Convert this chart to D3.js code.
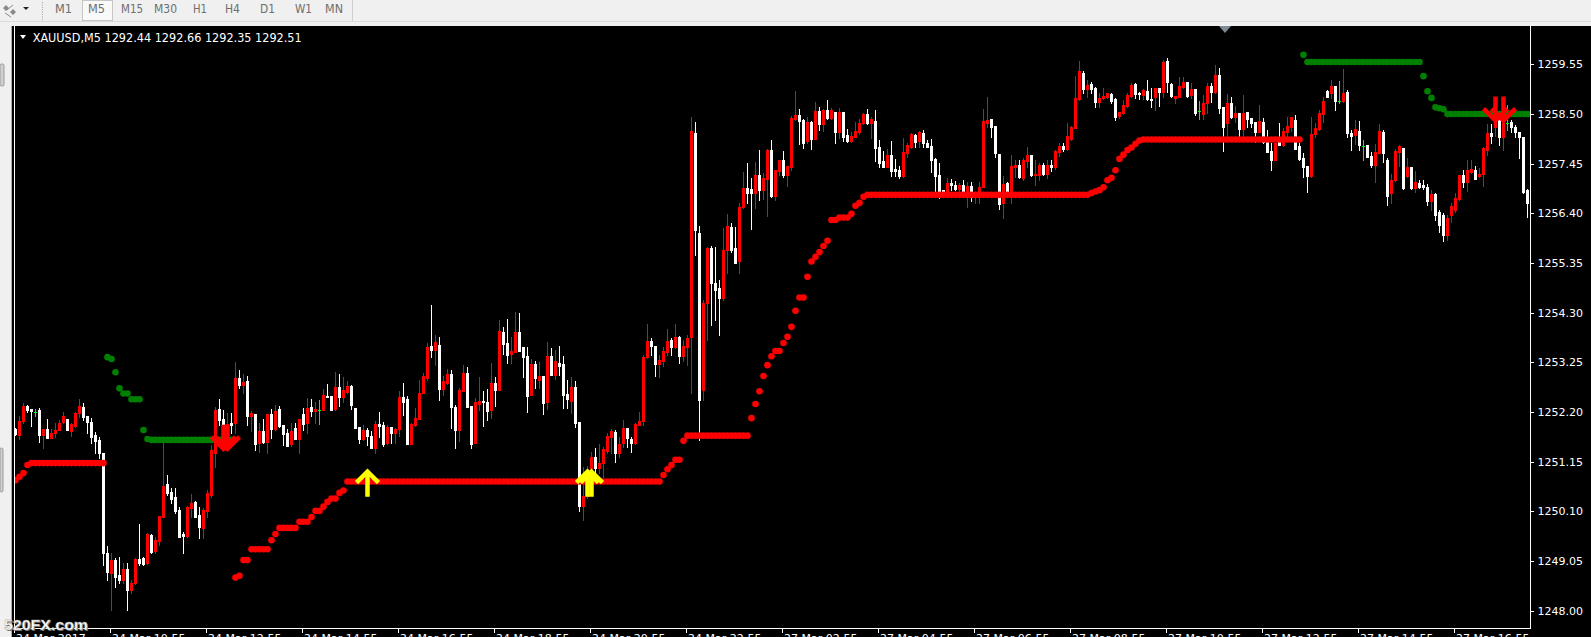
<!DOCTYPE html>
<html><head><meta charset="utf-8">
<script src="https://cdn.jsdelivr.net/npm/d3@7"></script>
<style>html,body{margin:0;padding:0;background:#000;overflow:hidden}svg{display:block}</style>
</head><body><svg id="c" width="1591" height="637"></svg>
<script>
const symbolTitle = "XAUUSD,M5  1292.44 1292.66 1292.35 1292.51";
const periods = ["M1","M5","M15","M30","H1","H4","D1","W1","MN"];
const priceTicks = [1248.00,1249.05,1250.10,1251.15,1252.20,1253.25,1254.30,1255.35,1256.40,1257.45,1258.50,1259.55];
const timeTickBars = [0,24,48,72,96,120,144,168,192,216,240,264,288,312,336,360];
const timeLabels = ["24 Mar 2017","24 Mar 10:55","24 Mar 12:55","24 Mar 14:55","24 Mar 16:55","24 Mar 18:55","24 Mar 20:55","24 Mar 22:55","27 Mar 02:55","27 Mar 04:55","27 Mar 06:55","27 Mar 08:55","27 Mar 10:55","27 Mar 12:55","27 Mar 14:55","27 Mar 16:55"];

const open = [1251.84,1251.71,1252.01,1252.33,1252.26,1252.20,1252.24,1251.71,1251.84,1251.65,
1251.76,1251.82,1251.99,1252.05,1251.80,1251.90,1252.18,1252.31,1252.12,1251.99,
1251.71,1251.61,1251.33,1249.22,1248.80,1249.07,1248.76,1248.65,1248.88,1248.44,
1248.59,1249.09,1249.11,1249.01,1249.60,1249.26,1249.47,1249.98,1250.68,1250.51,
1250.40,1250.13,1249.62,1249.58,1250.17,1250.30,1250.02,1249.75,1250.11,1250.45,
1251.33,1252.26,1252.05,1251.88,1251.97,1251.97,1252.92,1252.77,1252.86,1252.12,
1252.16,1251.55,1251.80,1251.57,1252.16,1251.84,1252.26,1251.92,1251.76,1251.52,
1251.86,1251.63,1252.16,1251.97,1252.31,1252.22,1252.24,1252.24,1252.54,1252.54,
1252.26,1252.73,1252.52,1252.62,1252.75,1252.28,1251.88,1251.63,1251.82,1251.69,
1251.44,1251.95,1251.92,1251.55,1251.88,1251.76,1251.84,1252.52,1252.47,1251.52,
1251.92,1252.05,1252.60,1252.92,1253.60,1253.51,1253.62,1252.69,1252.81,1253.00,
1252.31,1251.82,1252.64,1253.02,1252.33,1251.55,1252.37,1252.43,1252.41,1252.24,
1252.81,1252.66,1253.89,1253.66,1253.43,1253.47,1253.89,1253.57,1253.38,1252.56,
1253.21,1252.88,1252.96,1252.41,1253.38,1252.98,1253.24,1253.21,1252.58,1252.43,
1252.73,1251.99,1250.21,1250.42,1251.02,1251.25,1251.02,1251.12,1251.38,1251.67,
1251.78,1251.33,1251.55,1251.86,1251.63,1251.55,1251.92,1252.01,1253.36,1253.70,
1253.59,1253.21,1253.28,1253.47,1253.72,1253.57,1253.79,1253.38,1253.57,1253.79,
1258.10,1255.98,1252.66,1254.50,1255.67,1254.93,1254.82,1254.61,1255.62,1256.11,
1255.67,1255.39,1256.53,1256.93,1256.91,1256.83,1257.21,1256.89,1257.12,1257.74,
1256.77,1257.29,1257.53,1257.21,1257.38,1258.39,1258.48,1258.37,1257.93,1258.33,
1257.97,1258.56,1258.29,1258.58,1258.41,1258.54,1258.12,1258.54,1258.05,1257.93,
1258.01,1258.12,1258.31,1258.50,1258.31,1258.35,1257.80,1257.50,1257.38,1257.63,
1257.34,1257.31,1257.19,1257.67,1257.80,1258.05,1257.93,1258.10,1257.88,1257.82,
1257.55,1257.21,1256.89,1256.87,1257.04,1257.00,1256.91,1257.00,1256.74,1256.98,
1256.74,1256.74,1256.96,1258.31,1258.39,1258.24,1257.65,1256.62,1257.04,1256.83,
1257.38,1257.42,1257.15,1257.50,1257.63,1257.21,1257.21,1257.42,1257.23,1257.42,
1257.38,1257.70,1257.82,1257.76,1257.97,1258.20,1258.82,1259.36,1259.03,1259.13,
1259.05,1258.75,1258.84,1258.86,1258.92,1258.82,1258.46,1258.52,1258.67,1258.88,
1259.13,1258.94,1258.90,1258.98,1258.82,1258.86,1259.05,1258.96,1259.62,1259.13,
1258.84,1258.86,1259.07,1259.17,1258.90,1259.03,1258.56,1258.50,1258.73,1259.09,
1258.96,1259.32,1258.65,1258.31,1258.73,1258.44,1258.52,1258.18,1258.54,1258.41,
1258.33,1258.12,1258.33,1257.91,1257.72,1257.53,1257.95,1257.84,1258.12,1258.22,
1258.37,1257.82,1257.57,1257.40,1257.19,1258.08,1258.18,1258.50,1258.98,1258.94,
1259.09,1258.77,1258.77,1258.96,1258.10,1258.05,1258.14,1257.82,1257.84,1257.61,
1257.42,1257.67,1258.12,1257.53,1256.83,1257.10,1257.70,1257.78,1257.19,1257.38,
1256.93,1257.04,1257.00,1256.96,1256.66,1256.81,1256.43,1256.36,1255.94,1256.36,
1256.47,1256.70,1257.21,1257.06,1257.27,1257.31,1257.19,1257.23,1257.74,1258.10,
1258.22,1258.41,1258.01,1258.31,1258.33,1258.22,1258.12,1258.01,1256.89];

const high = [1251.86,1252.12,1252.39,1252.35,1252.26,1252.26,1252.28,1251.84,1252.05,1251.84,
1251.97,1252.03,1252.20,1252.05,1251.97,1252.20,1252.47,1252.39,1252.12,1252.07,
1251.78,1251.67,1251.33,1249.37,1249.22,1249.11,1249.13,1249.01,1249.01,1248.65,
1249.11,1249.83,1249.13,1249.64,1249.62,1249.56,1250.00,1251.55,1250.87,1250.59,
1250.59,1250.19,1249.66,1250.21,1250.47,1250.32,1250.19,1250.17,1250.55,1251.50,
1252.31,1252.47,1252.24,1252.18,1252.18,1253.26,1253.09,1253.00,1252.96,1252.22,
1252.16,1251.97,1252.05,1252.16,1252.26,1252.35,1252.33,1251.92,1251.84,1251.97,
1251.97,1252.05,1252.28,1252.50,1252.47,1252.41,1252.45,1252.69,1252.79,1252.54,
1253.04,1253.00,1252.94,1252.86,1252.77,1252.28,1251.88,1251.92,1251.86,1251.80,
1252.01,1252.20,1251.99,1251.92,1251.88,1251.86,1252.64,1252.81,1252.54,1251.97,
1252.28,1252.88,1253.02,1253.66,1254.46,1253.83,1253.79,1252.96,1253.11,1253.09,
1252.35,1252.71,1253.19,1253.15,1252.33,1252.50,1252.94,1252.64,1252.69,1253.24,
1252.94,1254.14,1253.99,1254.17,1253.79,1254.31,1254.29,1253.57,1253.57,1253.32,
1253.28,1253.26,1252.96,1253.68,1253.55,1253.51,1253.59,1253.38,1252.88,1252.94,
1252.86,1251.99,1251.04,1251.06,1251.35,1251.44,1251.52,1251.46,1251.76,1251.84,
1251.82,1251.67,1252.03,1251.86,1251.67,1251.97,1252.20,1253.40,1254.06,1253.76,
1253.59,1253.40,1253.57,1253.95,1253.76,1254.06,1253.81,1253.72,1253.83,1258.44,
1258.33,1256.13,1254.57,1255.69,1255.71,1255.69,1254.99,1256.09,1256.39,1256.19,
1256.11,1256.62,1257.27,1257.46,1257.15,1257.48,1257.74,1257.25,1257.76,1257.95,
1257.31,1257.53,1257.72,1257.40,1258.46,1258.98,1258.60,1258.39,1258.44,1258.35,
1258.75,1258.65,1258.60,1258.79,1258.63,1258.54,1258.63,1258.54,1258.18,1258.12,
1258.33,1258.39,1258.52,1258.60,1258.44,1258.58,1257.95,1257.72,1257.76,1257.93,
1257.55,1257.40,1257.99,1257.88,1258.10,1258.08,1258.14,1258.16,1257.95,1257.97,
1257.57,1257.46,1256.89,1257.15,1257.12,1257.08,1257.04,1257.10,1257.06,1257.06,
1256.85,1257.06,1258.60,1258.86,1258.39,1258.24,1257.65,1257.19,1257.06,1257.63,
1257.53,1257.53,1257.57,1257.80,1257.63,1257.53,1257.46,1257.46,1257.53,1257.53,
1257.74,1257.88,1257.88,1258.31,1258.24,1259.30,1259.62,1259.41,1259.22,1259.17,
1259.07,1258.94,1259.05,1258.94,1258.94,1258.84,1258.54,1258.79,1258.94,1259.15,
1259.15,1258.96,1259.03,1259.22,1259.05,1259.05,1259.05,1259.64,1259.68,1259.15,
1258.88,1259.28,1259.28,1259.17,1259.15,1259.03,1258.77,1258.90,1259.15,1259.15,
1259.53,1259.47,1258.65,1258.92,1258.86,1258.67,1258.52,1258.90,1258.54,1258.41,
1258.33,1258.69,1258.41,1258.16,1257.88,1257.88,1258.31,1258.20,1258.44,1258.44,
1258.48,1257.88,1257.67,1257.40,1258.44,1258.31,1258.58,1258.86,1259.00,1259.22,
1259.09,1259.20,1259.45,1259.00,1258.16,1258.37,1258.35,1257.95,1257.84,1257.70,
1257.86,1258.29,1258.16,1257.57,1257.23,1257.76,1257.84,1257.78,1257.57,1257.38,
1257.29,1257.10,1257.10,1257.02,1256.89,1256.83,1256.47,1256.41,1256.36,1256.62,
1256.83,1257.21,1257.31,1257.53,1257.53,1257.40,1257.36,1257.80,1258.29,1258.29,
1258.81,1258.41,1258.73,1258.69,1258.37,1258.27,1258.12,1258.01,1256.91];

const low = [1251.71,1251.63,1251.97,1252.20,1251.90,1252.12,1251.57,1251.44,1251.65,1251.65,
1251.67,1251.82,1251.97,1251.82,1251.69,1251.88,1252.10,1252.03,1251.76,1251.54,
1251.33,1251.23,1248.97,1248.65,1248.01,1248.50,1248.59,1248.59,1248.01,1248.37,
1248.57,1248.97,1248.97,1248.99,1249.22,1249.22,1249.39,1249.98,1250.45,1250.28,
1250.07,1249.56,1249.22,1249.56,1249.98,1249.98,1249.54,1249.54,1249.98,1250.40,
1251.04,1251.92,1251.40,1251.50,1251.76,1251.76,1252.71,1252.60,1251.92,1251.80,
1251.40,1251.35,1251.55,1251.33,1251.65,1251.82,1251.88,1251.50,1251.48,1251.48,
1251.63,1251.33,1251.82,1251.76,1252.12,1251.97,1251.95,1252.24,1252.52,1252.24,
1252.24,1252.33,1252.41,1252.60,1252.26,1251.86,1251.54,1251.61,1251.50,1251.44,
1251.33,1251.67,1251.48,1251.52,1251.55,1251.55,1251.69,1252.14,1251.52,1251.52,
1251.90,1252.05,1252.60,1252.88,1253.36,1253.19,1252.45,1252.56,1252.79,1251.86,
1251.44,1251.59,1252.64,1252.31,1251.44,1251.55,1252.24,1251.90,1252.03,1252.07,
1252.33,1252.66,1253.43,1253.24,1253.24,1253.47,1253.49,1252.94,1252.20,1252.56,
1252.71,1252.71,1252.16,1252.26,1252.98,1252.90,1252.98,1252.28,1252.28,1252.18,
1251.88,1250.11,1249.92,1250.38,1250.93,1250.93,1250.91,1250.83,1251.33,1251.33,
1251.14,1251.25,1251.46,1251.46,1251.35,1251.52,1251.92,1251.92,1253.34,1253.40,
1252.96,1252.94,1253.17,1253.40,1253.40,1253.55,1253.24,1253.28,1253.19,1252.60,
1255.52,1251.61,1252.45,1253.72,1254.04,1254.14,1253.83,1254.57,1255.14,1255.58,
1255.35,1255.14,1256.51,1256.62,1256.07,1256.51,1256.68,1256.70,1256.34,1256.74,
1256.68,1257.21,1257.17,1256.98,1257.31,1258.37,1257.86,1257.78,1257.88,1257.76,
1257.97,1258.16,1258.14,1258.39,1258.39,1257.88,1257.99,1257.93,1257.91,1257.91,
1258.01,1258.08,1258.29,1258.29,1257.99,1257.50,1257.38,1257.38,1257.38,1257.19,
1257.19,1257.15,1257.17,1257.59,1257.78,1257.80,1257.80,1257.80,1257.80,1257.27,
1256.85,1256.72,1256.74,1256.85,1256.89,1256.89,1256.85,1256.79,1256.53,1256.66,
1256.62,1256.62,1256.96,1258.22,1258.01,1257.59,1256.49,1256.30,1256.83,1256.62,
1257.17,1257.15,1257.10,1257.38,1257.19,1257.00,1257.10,1257.21,1257.15,1257.29,
1257.34,1257.61,1257.72,1257.74,1257.95,1258.20,1258.79,1258.94,1258.86,1258.94,
1258.65,1258.65,1258.82,1258.84,1258.73,1258.37,1258.41,1258.50,1258.65,1258.86,
1258.84,1258.82,1258.82,1258.79,1258.65,1258.58,1258.67,1258.86,1258.96,1258.86,
1258.73,1258.86,1259.05,1258.86,1258.84,1258.48,1258.39,1258.39,1258.52,1258.75,
1258.94,1258.52,1257.72,1258.03,1258.41,1258.33,1258.01,1258.03,1258.22,1258.22,
1257.91,1258.12,1257.88,1257.70,1257.31,1257.53,1257.84,1257.82,1258.01,1258.14,
1257.76,1257.53,1257.17,1256.85,1257.17,1258.01,1258.16,1258.33,1258.86,1258.84,
1258.58,1258.73,1258.75,1258.01,1257.74,1257.86,1257.74,1257.53,1257.59,1257.38,
1257.06,1257.67,1257.48,1256.57,1256.62,1257.08,1257.40,1256.91,1257.17,1256.91,
1256.85,1256.93,1256.91,1256.57,1256.47,1256.26,1256.00,1255.81,1255.83,1256.22,
1256.43,1256.68,1256.96,1256.87,1257.25,1257.12,1257.17,1256.98,1257.63,1257.88,
1258.03,1257.84,1257.74,1258.16,1258.12,1258.01,1257.57,1256.83,1256.32];

const close = [1251.73,1252.01,1252.33,1252.24,1252.22,1252.20,1251.71,1251.84,1251.65,1251.76,
1251.82,1251.97,1252.12,1251.82,1251.95,1252.18,1252.33,1252.10,1251.99,1251.67,
1251.59,1251.33,1249.22,1248.82,1249.07,1248.71,1248.65,1248.88,1248.44,1248.59,
1249.09,1249.01,1248.99,1249.62,1249.24,1249.49,1250.00,1250.64,1250.49,1250.36,
1250.11,1249.56,1249.58,1250.19,1250.28,1249.98,1249.77,1250.13,1250.49,1251.40,
1252.24,1252.03,1251.92,1251.95,1251.92,1252.92,1252.77,1252.83,1252.12,1252.18,
1251.52,1251.80,1251.57,1252.16,1251.84,1252.22,1251.90,1251.73,1251.48,1251.80,
1251.63,1252.05,1251.95,1252.28,1252.22,1252.26,1252.24,1252.56,1252.52,1252.24,
1252.73,1252.52,1252.66,1252.75,1252.35,1251.86,1251.63,1251.82,1251.69,1251.44,
1251.95,1251.90,1251.52,1251.88,1251.76,1251.84,1252.52,1252.41,1251.52,1251.95,
1252.07,1252.60,1252.96,1253.57,1253.51,1253.68,1252.69,1252.86,1253.00,1252.31,
1251.82,1252.66,1253.02,1252.31,1251.52,1252.41,1252.43,1252.41,1252.22,1252.81,
1252.66,1253.91,1253.64,1253.40,1253.49,1253.89,1253.49,1253.36,1252.54,1253.21,
1252.92,1252.96,1252.39,1253.38,1252.98,1253.28,1253.17,1252.56,1252.47,1252.73,
1251.97,1250.21,1250.42,1250.97,1251.25,1251.02,1251.12,1251.42,1251.69,1251.80,
1251.33,1251.52,1251.86,1251.65,1251.55,1251.95,1252.01,1253.36,1253.70,1253.59,
1253.21,1253.30,1253.49,1253.70,1253.57,1253.79,1253.38,1253.59,1253.76,1258.14,
1256.05,1252.45,1254.50,1255.67,1254.93,1254.78,1254.61,1255.62,1256.13,1255.62,
1255.35,1256.53,1256.93,1256.83,1256.83,1257.21,1256.89,1257.15,1257.74,1256.77,
1257.31,1257.53,1257.21,1257.40,1258.41,1258.48,1258.35,1257.88,1258.33,1257.97,
1258.56,1258.29,1258.58,1258.41,1258.58,1258.12,1258.54,1258.01,1257.93,1258.03,
1258.14,1258.31,1258.50,1258.31,1258.39,1257.78,1257.46,1257.38,1257.63,1257.29,
1257.29,1257.19,1257.70,1257.84,1258.08,1257.91,1258.12,1257.88,1257.80,1257.53,
1257.19,1256.87,1256.85,1257.04,1257.00,1256.91,1257.00,1256.85,1256.98,1256.74,
1256.85,1256.96,1258.35,1258.37,1258.22,1257.67,1256.60,1257.02,1256.83,1257.40,
1257.42,1257.17,1257.53,1257.63,1257.21,1257.23,1257.42,1257.23,1257.42,1257.38,
1257.72,1257.82,1257.76,1258.03,1258.22,1258.84,1259.41,1259.03,1259.11,1259.03,
1258.75,1258.84,1258.88,1258.94,1258.77,1258.44,1258.54,1258.69,1258.90,1259.11,
1258.92,1258.92,1259.01,1258.82,1258.79,1259.05,1258.96,1259.60,1259.17,1258.88,
1258.88,1259.09,1259.17,1258.88,1259.03,1258.52,1258.56,1258.73,1259.09,1258.96,
1259.32,1258.62,1258.22,1258.73,1258.44,1258.52,1258.18,1258.52,1258.39,1258.31,
1258.12,1258.35,1257.91,1257.70,1257.53,1257.88,1257.84,1258.14,1258.24,1258.44,
1257.76,1257.55,1257.38,1257.19,1258.08,1258.20,1258.52,1258.77,1258.86,1259.09,
1258.77,1258.77,1258.94,1258.10,1258.03,1258.18,1257.84,1257.82,1257.59,1257.42,
1257.70,1258.14,1257.67,1256.77,1257.10,1257.72,1257.82,1256.93,1257.38,1256.93,
1257.06,1256.96,1256.96,1256.66,1256.81,1256.36,1256.15,1255.94,1256.30,1256.55,
1256.72,1257.21,1257.06,1257.31,1257.34,1257.12,1257.23,1257.78,1258.10,1258.03,
1258.41,1258.01,1258.31,1258.31,1258.22,1258.12,1258.01,1256.85,1256.62];

// trailing stop levels: [firstBar, lastBar, price]
const supportRuns = [[0,0,1250.76],[1,1,1250.83],[2,2,1250.91],[3,3,1251.08],[4,22,1251.12],
[55,55,1248.70],[56,56,1248.74],[57,58,1249.07],[59,63,1249.30],[64,64,1249.49],[65,65,1249.62],[66,70,1249.75],[71,73,1249.88],[74,74,1249.98],[75,76,1250.11],[77,77,1250.20],[78,78,1250.30],[79,80,1250.37],[81,81,1250.49],[82,82,1250.54],[83,161,1250.73],
[162,162,1250.87],[163,163,1250.99],[164,164,1251.08],[165,166,1251.19],[167,167,1251.59],[168,183,1251.70],
[184,184,1252.07],[185,185,1252.37],[186,186,1252.64],[187,187,1252.96],[188,188,1253.19],[189,189,1253.38],[190,191,1253.49],[192,192,1253.66],[193,193,1253.79],[194,194,1254.00],[195,195,1254.34],[196,197,1254.62],[198,198,1255.06],[199,199,1255.38],[200,200,1255.48],[201,201,1255.58],[202,202,1255.71],[203,203,1255.82],[204,205,1256.26],[206,208,1256.31],[209,209,1256.39],[210,210,1256.56],[211,211,1256.62],[212,212,1256.75],[213,268,1256.79],
[269,269,1256.83],[270,270,1256.86],[271,271,1256.89],[272,272,1256.95],[273,273,1257.10],[274,274,1257.15],[275,275,1257.31],[276,276,1257.55],[277,277,1257.64],[278,278,1257.74],[279,279,1257.79],[280,280,1257.87],[281,281,1257.94],[282,321,1257.96]];
const resistRuns = [[23,23,1253.36],[24,24,1253.32],[25,25,1253.04],[26,26,1252.70],[27,28,1252.59],[29,31,1252.47],[32,32,1251.82],[33,33,1251.63],[34,54,1251.61],
[322,322,1259.75],[323,351,1259.60],[352,352,1259.30],[353,353,1258.98],[354,354,1258.84],[355,355,1258.64],[356,356,1258.62],[357,357,1258.60],[358,378,1258.50]];
// signal arrows: [bar, tip price]
const upArrows = [[88,1250.96],[143,1250.96],[144,1250.96]];
const downArrows = [[52,1251.40],[53,1251.40],[370,1258.34],[372,1258.34]];

const svg = d3.select("#c");
const x = d3.scaleLinear().domain([0,378]).range([15.5,1527.5]);
const y = d3.scaleLinear().domain([1248.00,1259.55]).range([610.7,64.3]);
const FONT = "DejaVu Sans, Verdana, sans-serif";

svg.append("rect").attr("width",1591).attr("height",637).attr("fill","#000");

// toolbar
const tb = svg.append("g");
tb.append("rect").attr("x",0).attr("y",0).attr("width",1591).attr("height",22).attr("fill","#f0f0f0");
tb.append("line").attr("x1",0).attr("x2",1591).attr("y1",21.5).attr("y2",21.5).attr("stroke","#dadada");
tb.append("rect").attr("x",0).attr("y",22).attr("width",1591).attr("height",4).attr("fill","#f0f0f0");
tb.append("path").attr("d","M3,8 l3,-3 l3,3 l-3,3z M10,12 l3,-3 l3,3 l-3,3z").attr("fill","#8a8a8a");
tb.append("path").attr("d","M7,10 L13,5 M5,13 L11,17").attr("stroke","#8a8a8a");
tb.append("path").attr("d","M23,7 L29,7 L26,10z").attr("fill","#222");
for (let k=0;k<8;k++) tb.append("rect").attr("x",42).attr("y",2+k*2.4).attr("width",1).attr("height",1).attr("fill","#a0a0a0");
tb.append("line").attr("x1",352.5).attr("x2",352.5).attr("y1",0).attr("y2",21).attr("stroke","#cfcfcf");
tb.append("rect").attr("x",82.5).attr("y",0.5).attr("width",30).attr("height",20).attr("fill","#f9f9f9").attr("stroke","#c6c6c6");
const px = [55,88,121,154,193,225,260,295,325];
const pw = [17,17,22,23,14,15,15,17,18];
tb.selectAll("text.p").data(periods).join("text").attr("class","p")
  .attr("x",(d,i)=>px[i]).attr("y",13).attr("font-family",FONT).attr("font-size",12)
  .attr("textLength",(d,i)=>pw[i]).attr("lengthAdjust","spacingAndGlyphs")
  .attr("fill","#6e6e6e").text(d=>d);

// left panel
svg.append("rect").attr("x",0).attr("y",22).attr("width",12).attr("height",615).attr("fill","#f0f0f0");
svg.append("line").attr("x1",11.5).attr("x2",11.5).attr("y1",26).attr("y2",637).attr("stroke","#a9a9a9");
svg.append("rect").attr("x",0).attr("y",64).attr("width",4).attr("height",22).attr("rx",1.5).attr("fill","#d0d0d0").attr("stroke","#9a9a9a");
svg.append("rect").attr("x",0).attr("y",448).attr("width",3).attr("height",44).attr("rx",1.5).attr("fill","#d0d0d0").attr("stroke","#9a9a9a");

// clip for plot
svg.append("clipPath").attr("id","plot").append("rect").attr("x",15).attr("y",26).attr("width",1515).attr("height",603);
const g = svg.append("g").attr("clip-path","url(#plot)");

// candles
const bars = d3.range(open.length);
const colorOf = i => close[i] > open[i] ? "#ff0000" : (close[i] < open[i] ? "#ffffff" : "#00ff00");
g.append("g").selectAll("line").data(bars).join("line")
  .attr("x1",i=>x(i)).attr("x2",i=>x(i))
  .attr("y1",i=>Math.round(y(high[i]))).attr("y2",i=>Math.round(y(low[i]))+1)
  .attr("stroke",colorOf).attr("stroke-width",1);
g.append("g").selectAll("rect").data(bars).join("rect")
  .attr("x",i=>x(i)-1.5).attr("width",3)
  .attr("y",i=>Math.round(y(Math.max(open[i],close[i]))))
  .attr("height",i=>Math.max(1,Math.round(y(Math.min(open[i],close[i])))-Math.round(y(Math.max(open[i],close[i])))+1))
  .attr("fill",colorOf);

// trailing dots
function expand(runs){const out=[];runs.forEach(r=>{for(let i=r[0];i<=r[1];i++)out.push([i,r[2]]);});return out;}
g.append("g").selectAll("circle").data(expand(supportRuns)).join("circle")
  .attr("cx",d=>x(d[0])).attr("cy",d=>y(d[1])).attr("r",3.3).attr("fill","#ff0000");
g.append("g").selectAll("circle").data(expand(resistRuns)).join("circle")
  .attr("cx",d=>x(d[0])).attr("cy",d=>y(d[1])).attr("r",3.3).attr("fill","#008000");

// arrows
g.append("g").selectAll("path").data(upArrows).join("path")
  .attr("d",d=>{const cx=x(d[0]),t=y(d[1]);return `M${cx},${t+26}L${cx},${t+1} M${cx-11},${t+12}L${cx},${t+1}L${cx+11},${t+12}`;})
  .attr("fill","none").attr("stroke","#ffff00").attr("stroke-width",4.5).attr("stroke-linejoin","miter");
g.append("g").selectAll("path").data(downArrows).join("path")
  .attr("d",d=>{const cx=x(d[0]),t=y(d[1]);return `M${cx},${t-25}L${cx},${t-1} M${cx-12},${t-13}L${cx},${t-1}L${cx+12},${t-13}`;})
  .attr("fill","none").attr("stroke","#ff0000").attr("stroke-width",4.5).attr("stroke-linejoin","miter");

// chart shift marker
svg.append("path").attr("d","M1219,26 L1231,26 L1225,33z").attr("fill","#7f8a96");

// frame
svg.append("line").attr("x1",14.5).attr("x2",14.5).attr("y1",26).attr("y2",629).attr("stroke","#fff");
svg.append("line").attr("x1",1530.5).attr("x2",1530.5).attr("y1",26).attr("y2",629).attr("stroke","#fff");
svg.append("line").attr("x1",14).attr("x2",1531).attr("y1",628.5).attr("y2",628.5).attr("stroke","#fff");

// price axis
const ya = svg.append("g");
ya.selectAll("line").data(priceTicks).join("line")
  .attr("x1",1531).attr("x2",1534).attr("y1",d=>Math.round(y(d))+0.5).attr("y2",d=>Math.round(y(d))+0.5).attr("stroke","#fff");
ya.selectAll("text").data(priceTicks).join("text")
  .attr("x",1537.5).attr("y",d=>y(d)+4).attr("font-family",FONT).attr("font-size",11).attr("fill","#fff")
  .text(d=>d.toFixed(2));

// time axis (labels run off the bottom edge, as in the terminal window)
const xa = svg.append("g");
xa.selectAll("line").data(timeTickBars).join("line")
  .attr("x1",d=>Math.floor(x(d))-0.5).attr("x2",d=>Math.floor(x(d))-0.5).attr("y1",629).attr("y2",633).attr("stroke","#fff");
xa.selectAll("text").data(timeTickBars).join("text")
  .attr("x",d=>Math.floor(x(d))+1).attr("y",642).attr("font-family",FONT).attr("font-size",11).attr("fill","#fff")
  .text((d,i)=>timeLabels[i]);

// title
svg.append("path").attr("d","M20,35 L26,35 L23,39z").attr("fill","#fff");
svg.append("text").attr("x",32.7).attr("y",41.5).attr("font-family",FONT).attr("font-size",11.5).attr("fill","#fff")
  .attr("textLength",269).attr("lengthAdjust","spacingAndGlyphs").text(symbolTitle);

// watermark
const wm = svg.append("g").attr("font-family","Liberation Sans, Arial, sans-serif").attr("font-weight","bold").attr("font-size",14);
wm.append("text").attr("x",5).attr("y",631).attr("fill","#6a6a6a").attr("textLength",84).attr("lengthAdjust","spacingAndGlyphs").text("520FX.com");
wm.append("text").attr("x",4).attr("y",630).attr("fill","#fff").attr("stroke","#9a9a9a").attr("stroke-width",0.4)
  .attr("textLength",84).attr("lengthAdjust","spacingAndGlyphs").text("520FX.com");
</script></body></html>
